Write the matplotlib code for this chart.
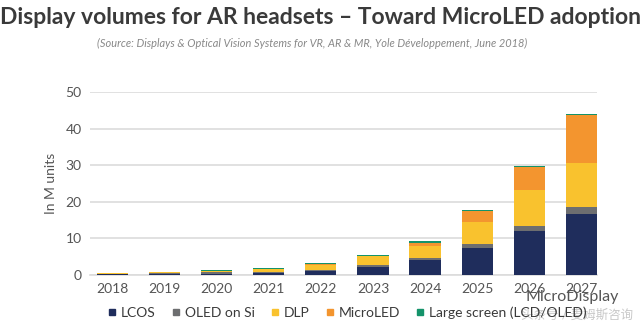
import matplotlib.pyplot as plt
import numpy as np

years = ["2018", "2019", "2020", "2021", "2022", "2023", "2024", "2025", "2026", "2027"]
lcos = [0.2, 0.3, 0.4, 0.6, 1.0, 2.3, 4.0, 7.4, 12.0, 16.6]
oled = [0.2, 0.3, 0.3, 0.3, 0.3, 0.5, 0.6, 1.0, 1.5, 2.1]
dlp = [0.05, 0.1, 0.4, 0.8, 1.5, 2.4, 3.4, 6.2, 9.7, 11.8]
microled = [0.0, 0.0, 0.0, 0.0, 0.1, 0.1, 0.8, 2.8, 6.4, 13.2]
large = [0.05, 0.1, 0.2, 0.3, 0.4, 0.3, 0.4, 0.4, 0.3, 0.2]

series = [("LCOS", lcos, "#1f2d5c"),
          ("OLED on Si", oled, "#6d6e70"),
          ("DLP", dlp, "#f9c22e"),
          ("MicroLED", microled, "#f3952f"),
          ("Large screen (LCD/OLED)", large, "#14936a")]

plt.rcParams['font.family'] = ['Lato', 'Noto Sans CJK SC', 'DejaVu Sans']

fig = plt.figure(figsize=(6.4, 3.26), dpi=100)
ax = fig.add_axes([90/640, 1 - 275/326, 507/640, 183/326])

x = np.arange(len(years))
bottom = np.zeros(len(years))
for name, vals, col in series:
    ax.bar(x, vals, 0.6, bottom=bottom, color=col, label=name, zorder=3)
    bottom += np.array(vals)

ax.set_ylim(0, 50)
ax.set_xlim(-0.43, 9.3)
ax.set_yticks([0, 10, 20, 30, 40, 50])
ax.set_xticks(x)
ax.set_xticklabels(years)
ax.yaxis.grid(True, color="#dcdcdc", lw=1.2, zorder=0)
ax.tick_params(length=0, labelsize=10, colors="#555555", pad=6)
for s in ["top", "right", "left"]:
    ax.spines[s].set_visible(False)
ax.spines["bottom"].set_color("#dcdcdc")
ax.spines["bottom"].set_linewidth(1.2)
ax.set_ylabel("In M units", fontsize=10, color="#555555", labelpad=6)

fig.text(0.5, 1 - 17/326, "Display volumes for AR headsets – Toward MicroLED adoption",
         ha="center", va="center", fontsize=16.5, fontweight="bold", color="#3a3a3a")
fig.text(312/640, 1 - 43/326,
         "(Source: Displays & Optical Vision Systems for VR, AR & MR, Yole Développement, June 2018)",
         ha="center", va="center", fontsize=7.9, style="italic", color="#888888")

handles = [plt.Line2D([], [], marker="s", ls="", color=c, markersize=5) for _, _, c in series]
fig.legend(handles, [n for n, _, _ in series], loc="center", bbox_to_anchor=(347/640, 1 - 313/326),
           ncol=5, frameon=False, fontsize=10, handlelength=0.7, handletextpad=0.3,
           columnspacing=1.1, labelcolor="#3a3a3a", borderpad=0, borderaxespad=0)

# watermark
fig.text(572/640, 1 - 297/326, "MicroDisplay", ha="center", va="center", fontsize=11.5, color="#555555")
fig.text(577/640, 1 - 315/326, "头条号 / 麦姆斯咨询", ha="center", va="center", fontsize=9, color="#c8c8c8")

fig.savefig("out.png", dpi=100)
